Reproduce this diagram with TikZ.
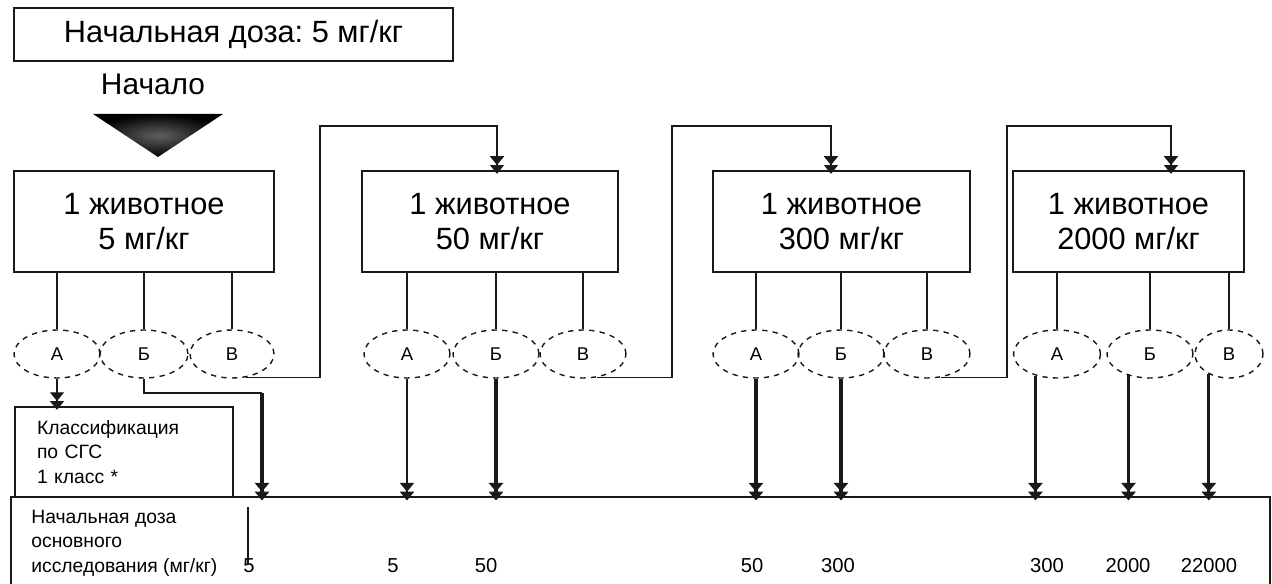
\documentclass[tikz,border=0pt]{standalone}
\usepackage{fontspec}
\setmainfont{Liberation Sans}
\frenchspacing
\usetikzlibrary{shapes.geometric,arrows.meta}
\definecolor{inkgray}{RGB}{25,25,25}
\tikzset{
  thinline/.style={draw=inkgray,line width=0.8pt},
  thickline/.style={draw=inkgray,line width=1.8pt},
  dtip/.style={-{Triangle[width=8pt,length=5pt]Triangle[width=8pt,length=5pt,sep=-2pt]}},
  dosebox/.style={thinline,rectangle,minimum height=2.02cm,align=center,
    font=\fontsize{17.5}{20}\selectfont},
  outcome/.style={thinline,dashed,ellipse,minimum width=1.72cm,minimum height=0.96cm,
    inner sep=0pt,font=\fontsize{10.5}{12}\selectfont},
  numlabel/.style={inner sep=0pt,font=\fontsize{11.5}{13}\selectfont}
}

\begin{document}
\begin{tikzpicture}[x=0.02cm,y=-0.02cm]
\useasboundingbox (0,0) rectangle (1272,584);

\node [thinline,rectangle,minimum width=8.78cm,minimum height=1.06cm,
  font=\fontsize{17.5}{20}\selectfont] (startdose) at (233.5,34.5) {Начальная доза: 5 мг/кг};
\node [font=\fontsize{17}{20}\selectfont] (begin) at (153,84) {Начало};
\shade [inner color=gray!75!black,outer color=black] (93,114) -- (223,114) -- (158,157) -- cycle;

% boxes with one animal each
\node [dosebox,minimum width=5.2cm]  (b1) at (144,221.5)   {1 животное\\5 мг/кг};
\node [dosebox,minimum width=5.12cm] (b2) at (490,221.5)   {1 животное\\50 мг/кг};
\node [dosebox,minimum width=5.14cm] (b3) at (841.5,221.5) {1 животное\\300 мг/кг};
\node [dosebox,minimum width=4.62cm] (b4) at (1128.5,221.5) {1 животное\\2000 мг/кг};

% outcomes
\node [outcome,minimum width=1.72cm] (e1a) at (57,354)   {А};
\node [outcome,minimum width=1.76cm] (e1b) at (144,354)  {Б};
\node [outcome,minimum width=1.68cm] (e1c) at (232,354)  {В};
\node [outcome] (e2a) at (407,354)  {А};
\node [outcome] (e2b) at (496,354)  {Б};
\node [outcome] (e2c) at (583,354)  {В};
\node [outcome] (e3a) at (756,354)  {А};
\node [outcome] (e3b) at (841,354)  {Б};
\node [outcome] (e3c) at (927,354)  {В};
\node [outcome,minimum width=1.74cm] (e4a) at (1057,354) {А};
\node [outcome,minimum width=1.72cm] (e4b) at (1150,354) {Б};
\node [outcome,minimum width=1.36cm] (e4c) at (1229,354) {В};

\foreach \b/\e in {b1/e1a,b1/e1b,b1/e1c,b2/e2a,b2/e2b,b2/e2c,
                   b3/e3a,b3/e3b,b3/e3c,b4/e4a,b4/e4b,b4/e4c}
  \draw [thinline] (\e.north |- \b.south) -- (\e.north);

% next dose
\draw [thinline,dtip] (e1c.-60) -| (320,126) -| (b2.north -| 497,0);
\draw [thinline,dtip] (e2c.-60) -| (672,126) -| (b3.north -| 831,0);
\draw [thinline,dtip] (e3c.-60) -| (1007,126) -| (b4.north -| 1171,0);

% classification and main study
\node [thinline,rectangle,minimum width=4.36cm,minimum height=1.8cm,text width=3.48cm,
  align=left,font=\fontsize{11}{13.8}\selectfont] (cls) at (124,452)
  {Классификация\\по СГС\\1 класс *};
\coordinate (base) at (0,497);
\draw [thinline] (11,584) |- (1270,497) -- (1270,584);
\node [anchor=north west,inner sep=0pt,align=left,font=\fontsize{11}{13.8}\selectfont]
  (mainlbl) at (31,510) {Начальная доза\\основного\\исследования (мг/кг)};
\draw [thinline] (248,507) -- (248,565);

\draw [thinline,dtip] (e1a.south) -- (cls.north -| e1a.south);
\coordinate (bend1) at (262,393);
\draw [thinline] (e1b.south) |- (bend1);
\draw [thickline,dtip] (bend1) -- (bend1 |- base);
\draw [thinline,dtip]  (e2a.south) -- (e2a.south |- base);
\draw [thickline,dtip] (e2b.south) -- (e2b.south |- base);
\draw [thickline,dtip] (e3a.south) -- (e3a.south |- base);
\draw [thickline,dtip] (e3b.south) -- (e3b.south |- base);
\draw [thickline,dtip] (e4a.-135) -- (e4a.-135 |- base);
\draw [thickline,dtip] (e4b.-135) -- (e4b.-135 |- base);
\draw [thickline,dtip] (e4c.-135) -- (e4c.-135 |- base);

\foreach \x/\v [count=\i] in {249/5,393/5,486/50,752/50,838/300,1047/300,1128/2000,1209/22000}
  \node [numlabel] (n\i) at (\x,566) {\v};
\end{tikzpicture}
\end{document}
